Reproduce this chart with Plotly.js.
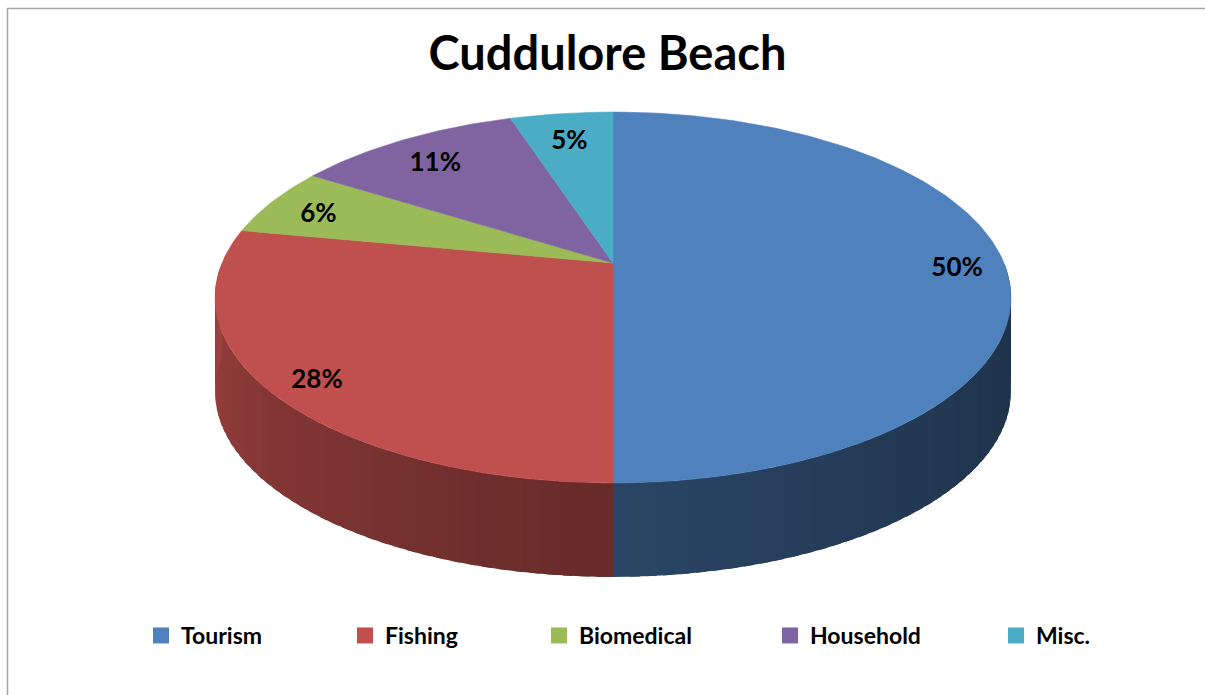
<!DOCTYPE html>
<html><head><meta charset="utf-8">
<script src="https://cdn.plot.ly/plotly-3.0.1.min.js"></script>
<style>html,body{margin:0;padding:0;background:#fff}#chart{width:1205px;height:695px}</style>
</head><body><div id="chart"></div>
<script>
// ---- data ----
const categories = ['Tourism', 'Fishing', 'Biomedical', 'Household', 'Misc.'];
const values = [50, 28, 6, 11, 5];
const colors = ['#4F81BD', '#C0504D', '#9BBB59', '#8064A2', '#4BACC6'];
const chartTitle = 'Cuddulore Beach';

// ---- layout / geometry settings (pixels) ----
const W = 1205, H = 695;
const CX = 613, CY = 263, SX = 391, SY = 179, P = 0.186, DEPTH = 94;
const legendSquareX = [167, 371, 565, 796, 1022];
const FONT = 'Lato, "Open Sans", sans-serif';

function proj(deg, r, dz) {
  const t = deg * Math.PI / 180;
  const u = r * Math.sin(t), v = r * Math.cos(t);
  const den = 1 + P * v;
  return [CX + SX * u / den, CY - SY * v / den + dz];
}
function shade(hex, f) {
  const n = parseInt(hex.slice(1), 16);
  const r = Math.round(((n >> 16) & 255) * f), g = Math.round(((n >> 8) & 255) * f), b = Math.round((n & 255) * f);
  return 'rgb(' + r + ',' + g + ',' + b + ')';
}

const total = values.reduce((a, b) => a + b, 0);
const starts = [], ends = [];
let cum = 0;
values.forEach(v => { starts.push(360 * cum / total); cum += v; ends.push(360 * cum / total); });

const traces = [];
// side walls (front half), drawn as shaded overlapping strips
values.forEach((v, i) => {
  const a0 = Math.max(starts[i], 90), a1 = Math.min(ends[i], 270);
  if (a0 >= a1) return;
  const n = Math.ceil((a1 - a0) / 2);
  for (let k = 0; k < n; k++) {
    let s = a0 + k * (a1 - a0) / n;
    const e = a0 + (k + 1) * (a1 - a0) / n;
    if (k > 0) s = Math.max(a0, s - 1.2);
    const xs = [], ys = [];
    const steps = 4;
    for (let j = 0; j <= steps; j++) { const p = proj(s + (e - s) * j / steps, 1, 0); xs.push(p[0]); ys.push(p[1]); }
    for (let j = steps; j >= 0; j--) { const p = proj(s + (e - s) * j / steps, 1, DEPTH); xs.push(p[0]); ys.push(p[1]); }
    const t = ((s + e) / 2 - 90) / 180;
    const f = 0.38 + 0.44 * Math.pow(t, 1.5);
    const c = shade(colors[i], f);
    traces.push({type: 'scatter', mode: 'lines', x: xs, y: ys, fill: 'toself', fillcolor: c,
      line: {color: c, width: 0}, hoverinfo: 'skip', showlegend: false});
  }
});
// top faces
values.forEach((v, i) => {
  const xs = [CX], ys = [CY];
  const n = Math.max(2, Math.ceil(ends[i] - starts[i]));
  for (let j = 0; j <= n; j++) { const p = proj(starts[i] + (ends[i] - starts[i]) * j / n, 1, 0); xs.push(p[0]); ys.push(p[1]); }
  xs.push(CX); ys.push(CY);
  traces.push({type: 'scatter', mode: 'lines', x: xs, y: ys, fill: 'toself', fillcolor: colors[i],
    line: {color: colors[i], width: 0.6}, name: categories[i], hoverinfo: 'skip', showlegend: false});
});
// data labels
const lx = [], ly = [], lt = [];
values.forEach((v, i) => {
  const mid = (starts[i] + ends[i]) / 2;
  const vv = Math.cos(mid * Math.PI / 180);
  const r = 0.88 - 0.06 * Math.max(vv, 0);
  const p = proj(mid, r, 6);
  lx.push(p[0]); ly.push(p[1]); lt.push(Math.round(100 * v / total) + '%');
});
traces.push({type: 'scatter', mode: 'text', x: lx, y: ly, text: lt, textposition: 'middle center',
  textfont: {family: FONT, size: 26, color: '#000000', weight: 'bold'}, hoverinfo: 'skip', showlegend: false});
// legend entries
const layoutLegends = {};
categories.forEach((c, i) => {
  const key = i === 0 ? 'legend' : 'legend' + (i + 1);
  traces.push({type: 'scatter', mode: 'markers', x: [null], y: [null], name: c, legend: key,
    marker: {symbol: 'square', size: 16, color: colors[i]}, hoverinfo: 'skip'});
  layoutLegends[key] = {x: (legendSquareX[i] - 26) / W, xanchor: 'left', y: 1 - 635.5 / H, yanchor: 'middle',
    orientation: 'h', bgcolor: 'rgba(0,0,0,0)', borderwidth: 0,
    font: {family: FONT, size: 23, color: '#000000', weight: 'bold'}};
});

const layout = Object.assign({
  width: W, height: H,
  margin: {l: 0, r: 0, t: 0, b: 0},
  paper_bgcolor: '#ffffff', plot_bgcolor: '#ffffff',
  title: {text: chartTitle, font: {family: FONT, size: 47, color: '#000000', weight: 'bold'},
    x: 607.5 / W, xanchor: 'center', y: 1 - 54 / H, yanchor: 'middle'},
  xaxis: {range: [0, W], visible: false, fixedrange: true},
  yaxis: {range: [H, 0], visible: false, fixedrange: true},
  showlegend: true,
  hovermode: false,
  shapes: [{type: 'rect', xref: 'paper', yref: 'paper', x0: 7.5 / W, x1: 1.05, y0: -0.05, y1: 1 - 8.5 / H,
    line: {color: '#a6a6a6', width: 1.5}, fillcolor: 'rgba(0,0,0,0)', layer: 'below'}]
}, layoutLegends);

Plotly.newPlot('chart', traces, layout, {displayModeBar: false, staticPlot: true});
</script></body></html>
